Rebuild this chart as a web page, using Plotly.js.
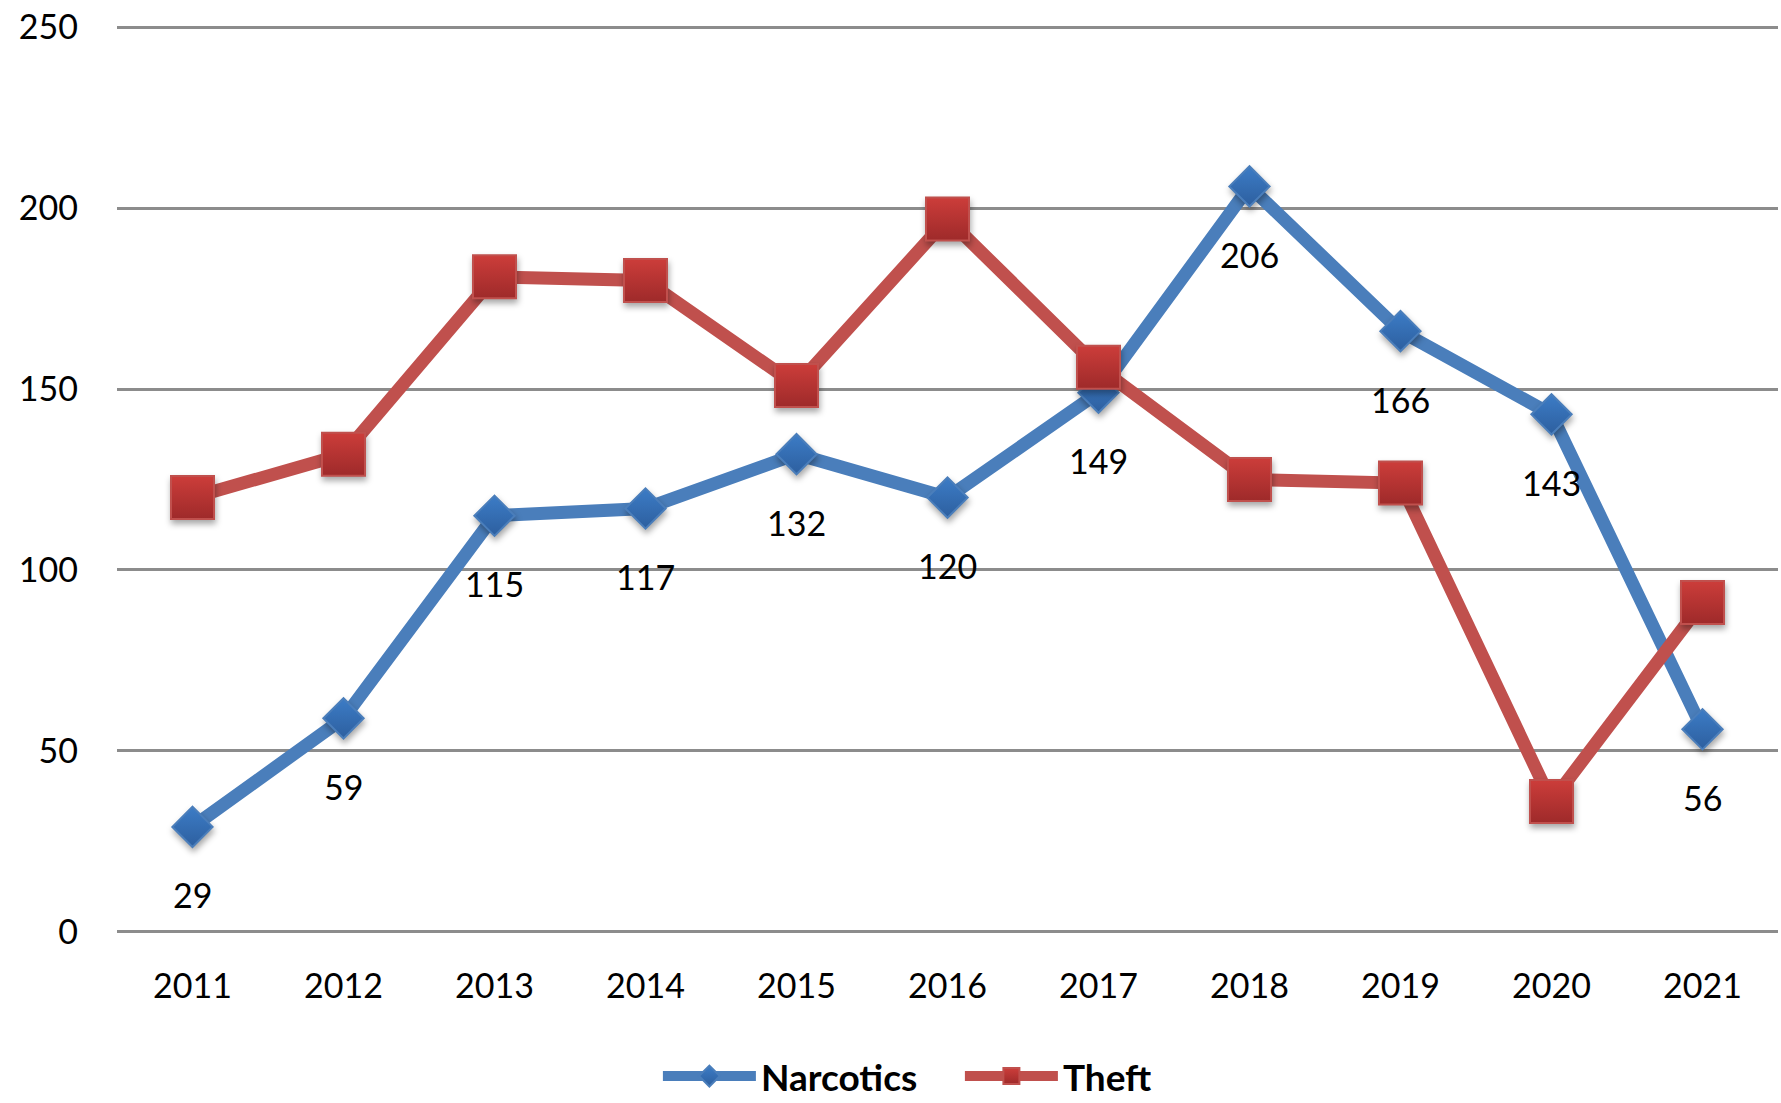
<!DOCTYPE html>
<html>
<head>
<meta charset="utf-8">
<script src="https://cdn.plot.ly/plotly-3.0.1.min.js"></script>
<style>
html,body{margin:0;padding:0;background:#fff;}
#chart{width:1781px;height:1103px;}
#chart .scatterlayer .points path{filter: drop-shadow(1px 4px 3px rgba(0,0,0,0.35));}
</style>
</head>
<body>
<div id="chart"></div>
<script>
const years = ['2011','2012','2013','2014','2015','2016','2017','2018','2019','2020','2021'];
const narcotics = [29, 59, 115, 117, 132, 120, 149, 206, 166, 143, 56];
const theft = [120, 132, 181, 180, 151, 197, 156, 125, 124, 36, 91];
const yTicks = [0, 50, 100, 150, 200, 250];

const FONT = 'Lato, "Open Sans", sans-serif';

const traces = [
  {
    type: 'scatter', mode: 'lines+markers', name: 'Narcotics',
    x: years, y: narcotics,
    line: {color: '#4a7ebb', width: 13},
    marker: {symbol: 'diamond', size: 31, color: '#3c7cc6',
             gradient: {type: 'vertical', color: '#2d5f9f'},
             line: {color: '#4a7ebb', width: 2}},
    hoverinfo: 'x+y'
  },
  {
    type: 'scatter', mode: 'lines+markers', name: 'Theft',
    x: years, y: theft,
    line: {color: '#c0504d', width: 13},
    marker: {symbol: 'square', size: 43, color: '#cc3d3a',
             gradient: {type: 'vertical', color: '#9e2a2a'},
             line: {color: '#c0504d', width: 2}},
    hoverinfo: 'x+y'
  }
];

// category index positions for the labels (category axis)
const annotations = years.map((yr, i) => ({
  x: i, y: narcotics[i], xref: 'x', yref: 'y',
  text: String(narcotics[i]), showarrow: false,
  yshift: -68, font: {family: FONT, size: 34, color: '#000'}
}));

const layout = {
  width: 1781, height: 1103,
  margin: {l: 117, r: 3, t: 25, b: 169, pad: 0},
  paper_bgcolor: '#fff', plot_bgcolor: '#fff',
  showlegend: true,
  legend: {
    orientation: 'h', xref: 'container', yref: 'container',
    x: 0.3694, xanchor: 'left', y: 0.024, yanchor: 'middle',
    font: {family: FONT, size: 37, color: '#000', weight: 'bold'},
    itemwidth: 93, entrywidth: 194, entrywidthmode: 'pixels', traceorder: 'normal'
  },
  xaxis: {
    type: 'category', categoryarray: years, range: [-0.5, 10.5],
    showgrid: false, zeroline: false, showline: false,
    ticks: '', ticklabelstandoff: 29,
    tickfont: {family: FONT, size: 34, color: '#000'},
    fixedrange: true
  },
  yaxis: {
    range: [-0.6, 250.6], tickvals: yTicks, ticktext: yTicks.map(String),
    showgrid: true, gridcolor: '#8c8c8c', gridwidth: 3,
    zeroline: false, showline: false, ticks: '', ticklabelstandoff: 38,
    tickfont: {family: FONT, size: 34, color: '#000'},
    fixedrange: true
  },
  annotations: annotations
};

Plotly.newPlot('chart', traces, layout, {displayModeBar: false, staticPlot: true});
</script>
</body>
</html>
